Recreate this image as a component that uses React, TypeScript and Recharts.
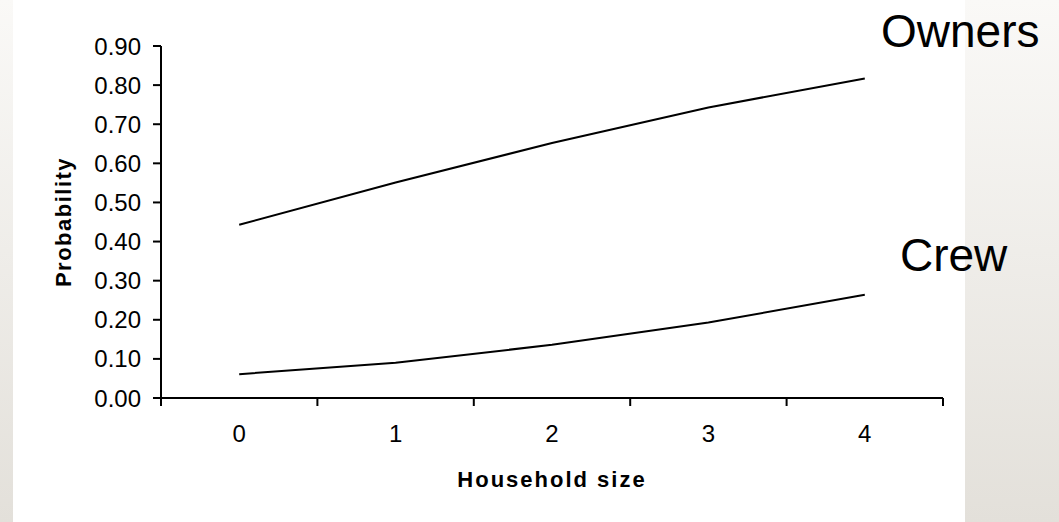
import { LineChart, Line, XAxis, YAxis, Customized } from "recharts"

const householdSize = [0, 1, 2, 3, 4]
const owners = [0.443, 0.551, 0.652, 0.743, 0.817]
const crew = [0.061, 0.09, 0.136, 0.193, 0.264]
const yTicks = [0, 0.1, 0.2, 0.3, 0.4, 0.5, 0.6, 0.7, 0.8, 0.9]
// label ticks on the categories, tick marks on the boundaries between them
const xTicks = [-0.5, 0, 0.5, 1, 1.5, 2, 2.5, 3, 3.5, 4, 4.5]

const data = householdSize.map((x, i) => ({ x, owners: owners[i], crew: crew[i] }))

const FONT = "'Liberation Sans', Arial, sans-serif"

function XTick(props: any) {
  const { x, y, payload } = props
  const v = payload.value as number
  if (!Number.isInteger(v)) {
    return <line x1={x} y1={y} x2={x} y2={y + 8} stroke="#000" strokeWidth={2} />
  }
  return (
    <text x={x} y={y + 44} textAnchor="middle" fontSize={24} fontFamily={FONT} fill="#000">
      {v}
    </text>
  )
}

function SeriesNames() {
  return (
    <g fontFamily={FONT} fontSize={46} fill="#000">
      <text x={881} y={47}>Owners</text>
      <text x={900} y={271}>Crew</text>
    </g>
  )
}

export default function App() {
  return (
    <div
      style={{
        position: "absolute",
        left: 0,
        top: 0,
        width: 1059,
        height: 522,
        background: "linear-gradient(to bottom, #faf9f7, #e3e0da)",
      }}
    >
      <div style={{ position: "absolute", left: 13, top: 0, width: 952, height: 522, background: "#fff" }} />
      <div style={{ position: "absolute", left: 0, top: 0 }}>
        <LineChart
          width={1059}
          height={522}
          data={data}
          margin={{ top: 46, right: 116, bottom: 0, left: 0 }}
        >
          <XAxis
            dataKey="x"
            type="number"
            domain={[-0.5, 4.5]}
            ticks={xTicks}
            interval={0}
            tickLine={false}
            tickSize={0}
            tickMargin={0}
            tick={<XTick />}
            height={124}
            axisLine={{ stroke: "#000", strokeWidth: 2 }}
            label={{
              value: "Household size",
              position: "insideBottom",
              offset: 35,
              fontSize: 22,
              fontWeight: "bold",
              fill: "#000",
              fontFamily: FONT,
              style: { letterSpacing: 2 },
            }}
          />
          <YAxis
            type="number"
            domain={[0, 0.9]}
            ticks={yTicks}
            interval={0}
            width={161}
            tickSize={8}
            tickMargin={12}
            tickFormatter={(v: number) => v.toFixed(2)}
            tick={{ fontSize: 24, fill: "#000", fontFamily: FONT }}
            tickLine={{ stroke: "#000", strokeWidth: 2 }}
            axisLine={{ stroke: "#000", strokeWidth: 2 }}
            label={{
              value: "Probability",
              angle: -90,
              position: "center",
              dx: -17,
              fontSize: 22,
              fontWeight: "bold",
              fill: "#000",
              fontFamily: FONT,
              style: { letterSpacing: 1.5 },
            }}
          />
          <Line
            dataKey="owners"
            stroke="#000"
            strokeWidth={2}
            dot={false}
            isAnimationActive={false}
          />
          <Line
            dataKey="crew"
            stroke="#000"
            strokeWidth={2}
            dot={false}
            isAnimationActive={false}
          />
          <Customized component={SeriesNames} />
        </LineChart>
      </div>
    </div>
  )
}
